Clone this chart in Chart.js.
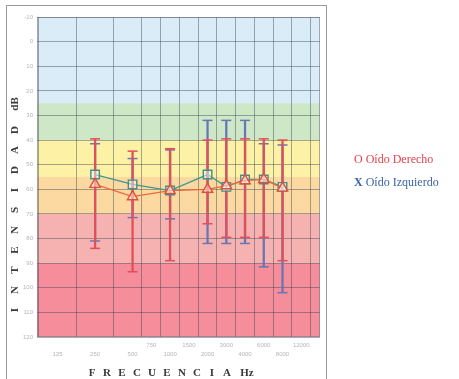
<!DOCTYPE html>
<html>
<head>
<meta charset="utf-8">
<script src="https://cdn.jsdelivr.net/npm/chart.js@4.4.1/dist/chart.umd.min.js"></script>
<style>
  html, body { margin:0; padding:0; background:#fff; overflow:hidden; }
  #wrap { position:relative; width:459px; height:379px; }
  #frame { position:absolute; left:6px; top:5px; width:321px; height:400px; border:1px solid #9a9a9a; box-sizing:border-box; }
  .leg { position:absolute; left:354px; font-family:"Liberation Serif", serif; font-size:12px; white-space:nowrap; }
  canvas { position:absolute; left:0; top:0; }
</style>
</head>
<body>
<div id="wrap">
  <div id="frame"></div>
  <canvas id="c" width="459" height="379"></canvas>
  <div class="leg" style="top:152px;color:#e5404c;">O Oído Derecho</div>
  <div class="leg" style="top:175px;color:#3a62a6;"><b>X</b> Oído Izquierdo</div>
</div>
<script>
// ---- data ----
const axisFreqs   = ['125','250','500','750','1000','1500','2000','3000','4000','6000','8000','12000'];
const axisPos     = [0, 1, 2, 2.5, 3, 3.5, 4, 4.5, 5, 5.5, 6, 6.5];
const halfOctave  = ['750','1500','3000','6000','12000'];

const freqs       = ['250','500','1000','2000','3000','4000','6000','8000'];
const rightMean   = [58, 63, 60.5, 60, 58.5, 56.5, 56, 59.5];
const rightTop    = [39.5, 44.5, 43.5, 40, 39.5, 39.5, 39.5, 40];
const rightBottom = [84, 93.5, 89, 74, 79.5, 79.5, 79.5, 89];
const leftMean    = [54, 58, 60.5, 54, 59, 56, 56, 59];
const leftTop     = [41.5, 47.5, 44, 32, 32, 32, 41.5, 42];
const leftBottom  = [81, 71.5, 72, 82, 82, 82, 91.5, 102];

const yTicks      = [-10, 0, 10, 20, 30, 40, 50, 60, 70, 80, 90, 100, 110, 120];
const bandEdges   = [-10, 25, 40, 55, 70, 90, 120];
const bandColors  = ['#d9ecf8', '#cde7c7', '#fcf1a4', '#fcd9a0', '#f6b2b0', '#f58d9b'];

const xTitle = 'FRECUENCIA';
const xUnit  = 'Hz';
const yTitle = 'INTENSIDAD';
const yUnit  = 'dB';

// ---- helpers ----
const posOf = f => axisPos[axisFreqs.indexOf(f)];
const pts = arr => freqs.map((f, i) => ({ x: posOf(f), y: arr[i] }));
const rng = (a, b) => freqs.map((f, i) => ({ x: posOf(f), y: [a[i], b[i]] }));

const RED = '#e0505a', REDLINE = '#f0673c', BLUE = '#6676b6', TEAL = '#3e9a8c';

const bandsPlugin = {
  id: 'bands',
  beforeDraw(chart) {
    const { ctx, chartArea: a, scales: { y } } = chart;
    ctx.save();
    for (let i = 0; i < bandColors.length; i++) {
      const y1 = y.getPixelForValue(bandEdges[i]);
      const y2 = y.getPixelForValue(bandEdges[i + 1]);
      ctx.fillStyle = bandColors[i];
      ctx.fillRect(a.left, y1, a.right - a.left, y2 - y1);
    }
    ctx.restore();
  },
  afterDraw(chart) {
    const { ctx, chartArea: a } = chart;
    ctx.save();
    ctx.strokeStyle = 'rgba(120,120,130,0.6)';
    ctx.lineWidth = 1;
    ctx.strokeRect(a.left + 0.5, a.top + 0.5, a.right - a.left - 1, a.bottom - a.top - 1);
    ctx.font = 'bold 11px "Liberation Serif", serif';
    ctx.fillStyle = '#3a3a3a';
    ctx.textAlign = 'center';
    ctx.textBaseline = 'middle';
    // x title, letter-spaced
    const xs = a.left + 55, xy = a.bottom + 36;
    for (let i = 0; i < xTitle.length; i++) ctx.fillText(xTitle[i], xs + i * 15, xy);
    ctx.fillText(xUnit, xs + (xTitle.length - 1) * 15 + 20, xy);
    // y title, rotated, letter-spaced
    const yx = 15, ys = a.top + 293;
    for (let i = 0; i < yTitle.length; i++) {
      ctx.save(); ctx.translate(yx, ys - i * 20); ctx.rotate(-Math.PI / 2);
      ctx.fillText(yTitle[i], 0, 0); ctx.restore();
    }
    ctx.save(); ctx.translate(yx, ys - (yTitle.length - 1) * 20 - 26); ctx.rotate(-Math.PI / 2);
    ctx.fillText(yUnit, 0, 0); ctx.restore();
    ctx.restore();
  }
};

new Chart(document.getElementById('c'), {
  type: 'scatter',
  data: {
    datasets: [
      { type: 'line', data: pts(rightMean), borderColor: REDLINE, borderWidth: 1.3,
        pointStyle: 'triangle', pointRadius: 6, pointBorderColor: '#e0503a', pointBorderWidth: 1.4,
        pointBackgroundColor: 'rgba(255,255,255,0.45)', order: 0, tension: 0 },
      { type: 'line', data: pts(leftMean), borderColor: TEAL, borderWidth: 1.3,
        pointStyle: 'rect', pointRadius: 6, pointBorderColor: '#3f8f8a', pointBorderWidth: 1.4,
        pointBackgroundColor: 'rgba(255,255,255,0.45)', order: 1, tension: 0 },
      { type: 'scatter', data: pts(rightTop).concat(pts(rightBottom)), pointStyle: 'line',
        pointRadius: 5, borderColor: RED, pointBorderWidth: 1.5, order: 2 },
      { type: 'scatter', data: pts(leftTop).concat(pts(leftBottom)), pointStyle: 'line',
        pointRadius: 5, borderColor: BLUE, pointBorderWidth: 1.5, order: 4 },
      { type: 'bar', data: rng(rightTop, rightBottom), backgroundColor: RED, barThickness: 1.6,
        grouped: false, order: 3 },
      { type: 'bar', data: rng(leftTop, leftBottom), backgroundColor: BLUE, barThickness: 1.6,
        grouped: false, order: 5 }
    ]
  },
  options: {
    responsive: false,
    devicePixelRatio: 1,
    animation: false,
    layout: { padding: { left: 0, right: 139, top: 17, bottom: 0 } },
    plugins: { legend: { display: false }, tooltip: { enabled: false } },
    scales: {
      x: {
        type: 'linear', min: -0.55, max: 7, offset: false,
        afterFit: s => { s.height = 42; },
        afterBuildTicks: s => { s.ticks = axisPos.map(v => ({ value: v })); },
        grid: { color: 'rgba(60,70,85,0.45)', drawTicks: false },
        border: { display: false },
        ticks: {
          autoSkip: false, maxRotation: 0, padding: 4,
          color: '#b4b4bc', font: { size: 6, family: '"Liberation Sans", sans-serif', lineHeight: 1.5 },
          callback: v => {
            const f = axisFreqs[axisPos.indexOf(v)];
            if (f === undefined) return '';
            return halfOctave.includes(f) ? [f, ''] : ['', f];
          }
        }
      },
      y: {
        reverse: true, min: -10, max: 120,
        afterFit: s => { s.width = 37; },
        afterBuildTicks: s => { s.ticks = yTicks.map(v => ({ value: v })); },
        grid: { color: 'rgba(60,70,85,0.45)', drawTicks: false },
        border: { display: false },
        ticks: { padding: 4, color: '#b4b4bc', font: { size: 6, family: '"Liberation Sans", sans-serif' } }
      }
    }
  },
  plugins: [bandsPlugin]
});
</script>
</body>
</html>
